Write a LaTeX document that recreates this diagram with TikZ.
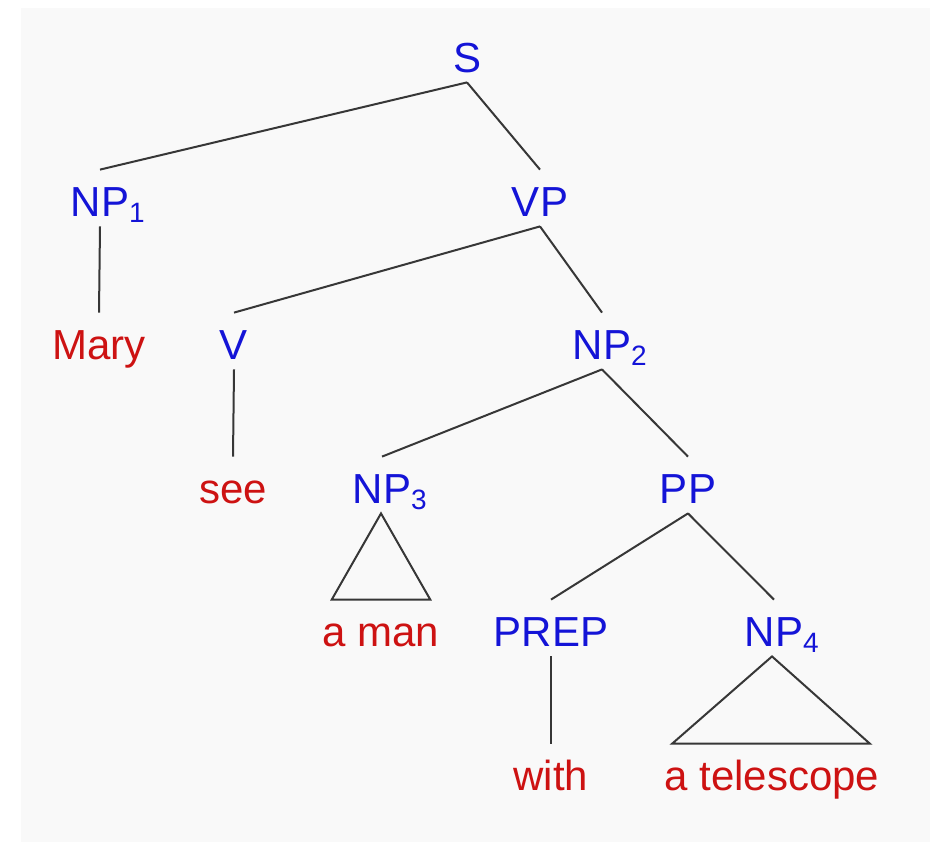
\documentclass[tikz,border=0pt]{standalone}
\usepackage{fontspec}
\setmainfont{Liberation Sans}
\usepackage{tikz}
\usetikzlibrary{positioning}

\definecolor{catblue}{RGB}{20,20,215}
\definecolor{wordred}{RGB}{205,18,18}
\definecolor{linegray}{RGB}{55,55,55}
\definecolor{paper}{RGB}{249,249,249}

% subscript that takes no width, so the node stays centred on its label
\newcommand{\idx}[1]{\rlap{\raisebox{-3pt}{\fontsize{14pt}{14pt}\selectfont #1}}}

\begin{document}
\begin{tikzpicture}[
    x=0.5pt, y=-0.5pt, % one unit = one pixel of the sketch
    tag/.style={anchor=base, inner sep=0pt, text height=23pt, text depth=5pt, font=\fontsize{21pt}{21pt}\selectfont},
    phrase/.style={tag, text=catblue},
    word/.style={tag, text=wordred},
    branch/.style={draw=linegray, line width=1pt}
]

% Page
\fill[white] (0,0) rectangle (930,842);
\fill[paper] (21,8) rectangle (930,842);
\useasboundingbox (0,0) rectangle (930,842);

% Categories
\node[phrase] (S) at (467,72) {S};
\node[phrase] (NP1) at (100,216) {NP\idx{1}};
\node[phrase] (VP) at (540,216) {VP};
\node[phrase] (V) at (234,359) {V};
\node[phrase] (NP2) at (602,359) {NP\idx{2}};
\node[phrase] (NP3) at (382,503) {NP\idx{3}};
\node[phrase] (PP) at (688,503) {PP};
\node[phrase] (PREP) at (551,646) {PREP};
\node[phrase] (NP4) at (774,646) {NP\idx{4}};

% Words
\node[word] (mary) at (99,359) {Mary};
\node[word] (see) at (233,503) {see};
\node[word] (aman) at (381,646) {a man};
\node[word] (with) at (551,790) {with};
\node[word] (telescope) at (772,790) {a telescope};

% Branches
\draw[branch] (S.south) -- (NP1.north);
\draw[branch] (S.south) -- (VP.north);
\draw[branch] (NP1.south) -- (mary.north);
\draw[branch] (VP.south) -- (V.north);
\draw[branch] (VP.south) -- (NP2.north);
\draw[branch] (V.south) -- (see.north);
\draw[branch] (NP2.south) -- (NP3.north);
\draw[branch] (NP2.south) -- (PP.north);
\draw[branch] (PP.south) -- (PREP.north);
\draw[branch] (PP.south) -- (NP4.north);
\draw[branch] (PREP.south) -- (with.north);

% Triangles
\draw[branch] (NP3.south -| aman.north) -- ([xshift=4.75pt]aman.north west) -- ([xshift=-4.75pt]aman.north east) -- cycle;
\draw[branch] (NP4.south -| telescope.north) -- ([xshift=4pt]telescope.north west) -- ([xshift=-5pt]telescope.north east) -- cycle;

\end{tikzpicture}
\end{document}
